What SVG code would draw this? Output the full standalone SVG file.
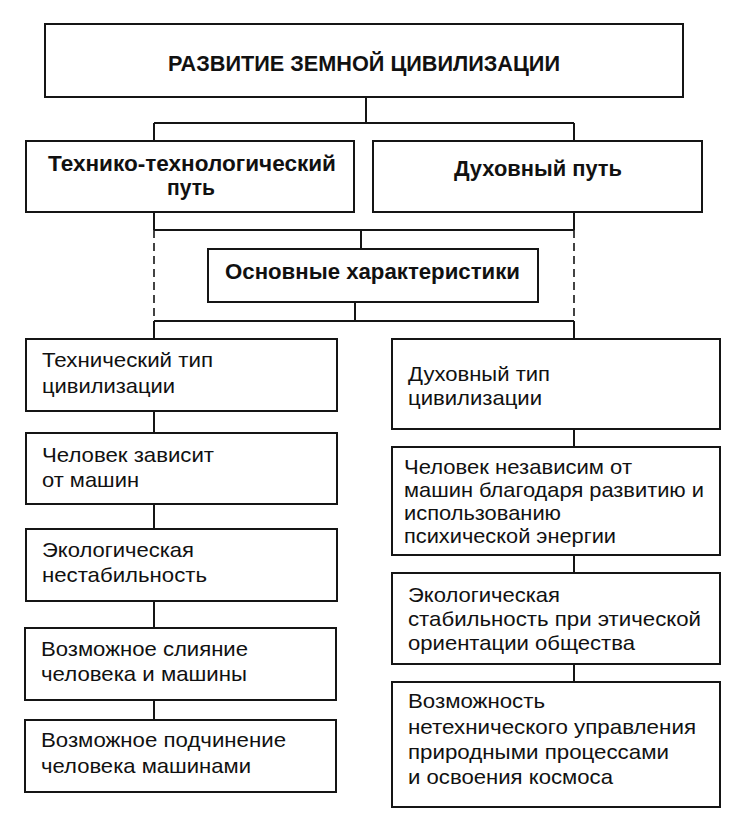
<svg xmlns="http://www.w3.org/2000/svg" width="736" height="835" viewBox="0 0 736 835">
<style>
.box{fill:#fff;stroke:#151515;stroke-width:2}
.ln{stroke:#151515;stroke-width:2;fill:none}
.dash{stroke:#151515;stroke-width:1.6;fill:none;stroke-dasharray:8 5}
.b{font-family:"Liberation Sans",Arial,sans-serif;font-weight:bold;font-size:22.5px;fill:#111}
.t{font-family:"Liberation Sans",Arial,sans-serif;font-size:21px;fill:#111}
</style>
<rect width="736" height="835" fill="#fff"/>
<g id="connectors">
<path class="ln" d="M366 97V123M154 123H574M154 123V141M574 123V141"/>
<path class="ln" d="M154 212V230M574 212V230M154 230H574M361 230V249"/>
<path class="dash" d="M154 230V321M574 230V321"/>
<path class="ln" d="M355 302V321M154 321H574M154 321V339M574 321V339"/>
<path class="ln" d="M154 411V433M154 504V529M154 601V628M154 700V720"/>
<path class="ln" d="M574 429V447M574 555V573M574 664V682"/>
</g>
<g id="root">
<rect class="box" x="45" y="24" width="638" height="73"/>
<text class="b" x="168" y="71" textLength="392" lengthAdjust="spacingAndGlyphs">РАЗВИТИЕ ЗЕМНОЙ ЦИВИЛИЗАЦИИ</text>
</g>
<g id="tech-path">
<rect class="box" x="26" y="141" width="328" height="71"/>
<text class="b" x="48" y="171" textLength="288" lengthAdjust="spacingAndGlyphs">Технико-технологический</text>
<text class="b" x="167" y="195" textLength="48" lengthAdjust="spacingAndGlyphs">путь</text>
</g>
<g id="spirit-path">
<rect class="box" x="373" y="141" width="329" height="71"/>
<text class="b" x="454" y="176" textLength="168" lengthAdjust="spacingAndGlyphs">Духовный путь</text>
</g>
<g id="main-char">
<rect class="box" x="208" y="249" width="330" height="53"/>
<text class="b" x="225" y="279" textLength="295" lengthAdjust="spacingAndGlyphs">Основные характеристики</text>
</g>
<g id="l1">
<rect class="box" x="26" y="339" width="311" height="72"/>
<text class="t" x="42" y="367" textLength="171" lengthAdjust="spacingAndGlyphs">Технический тип</text>
<text class="t" x="42" y="393" textLength="133" lengthAdjust="spacingAndGlyphs">цивилизации</text>
</g>
<g id="l2">
<rect class="box" x="26" y="433" width="311" height="71"/>
<text class="t" x="42" y="462" textLength="172" lengthAdjust="spacingAndGlyphs">Человек зависит</text>
<text class="t" x="42" y="487" textLength="97" lengthAdjust="spacingAndGlyphs">от машин</text>
</g>
<g id="l3">
<rect class="box" x="26" y="529" width="311" height="72"/>
<text class="t" x="42" y="557" textLength="152" lengthAdjust="spacingAndGlyphs">Экологическая</text>
<text class="t" x="42" y="582" textLength="165" lengthAdjust="spacingAndGlyphs">нестабильность</text>
</g>
<g id="l4">
<rect class="box" x="25" y="628" width="311" height="72"/>
<text class="t" x="41" y="656" textLength="207" lengthAdjust="spacingAndGlyphs">Возможное слияние</text>
<text class="t" x="41" y="681" textLength="206" lengthAdjust="spacingAndGlyphs">человека и машины</text>
</g>
<g id="l5">
<rect class="box" x="25" y="720" width="311" height="72"/>
<text class="t" x="41" y="747" textLength="245" lengthAdjust="spacingAndGlyphs">Возможное подчинение</text>
<text class="t" x="41" y="773" textLength="210" lengthAdjust="spacingAndGlyphs">человека машинами</text>
</g>
<g id="r1">
<rect class="box" x="392" y="339" width="328" height="90"/>
<text class="t" x="408" y="381" textLength="142" lengthAdjust="spacingAndGlyphs">Духовный тип</text>
<text class="t" x="408" y="405" textLength="134" lengthAdjust="spacingAndGlyphs">цивилизации</text>
</g>
<g id="r2">
<rect class="box" x="392" y="447" width="328" height="108"/>
<text class="t" x="404" y="474" textLength="228" lengthAdjust="spacingAndGlyphs">Человек независим от</text>
<text class="t" x="404" y="497" textLength="300" lengthAdjust="spacingAndGlyphs">машин благодаря развитию и</text>
<text class="t" x="404" y="520" textLength="157" lengthAdjust="spacingAndGlyphs">использованию</text>
<text class="t" x="404" y="543" textLength="212" lengthAdjust="spacingAndGlyphs">психической энергии</text>
</g>
<g id="r3">
<rect class="box" x="392" y="573" width="328" height="91"/>
<text class="t" x="408" y="602" textLength="152" lengthAdjust="spacingAndGlyphs">Экологическая</text>
<text class="t" x="408" y="626" textLength="293" lengthAdjust="spacingAndGlyphs">стабильность при этической</text>
<text class="t" x="408" y="650" textLength="227" lengthAdjust="spacingAndGlyphs">ориентации общества</text>
</g>
<g id="r4">
<rect class="box" x="392" y="682" width="328" height="125"/>
<text class="t" x="408" y="708" textLength="137" lengthAdjust="spacingAndGlyphs">Возможность</text>
<text class="t" x="408" y="734" textLength="288" lengthAdjust="spacingAndGlyphs">нетехнического управления</text>
<text class="t" x="408" y="759" textLength="261" lengthAdjust="spacingAndGlyphs">природными процессами</text>
<text class="t" x="408" y="784" textLength="205" lengthAdjust="spacingAndGlyphs">и освоения космоса</text>
</g>
</svg>
